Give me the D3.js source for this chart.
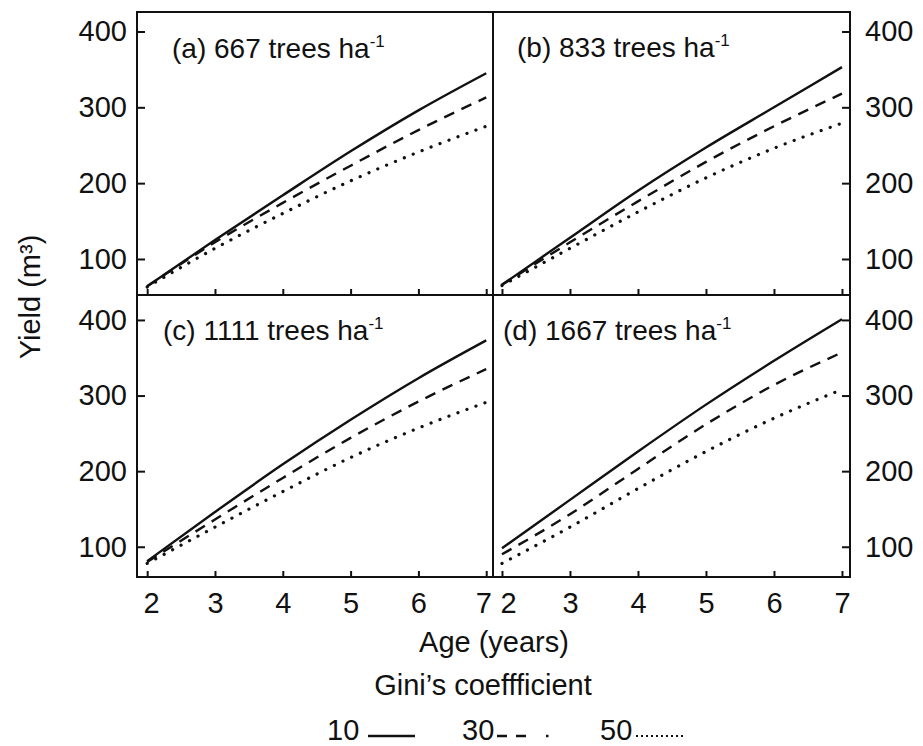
<!DOCTYPE html>
<html>
<head>
<meta charset="utf-8">
<script src="https://cdn.jsdelivr.net/npm/d3@7/dist/d3.min.js"></script>
<style>
  html, body { margin: 0; padding: 0; background: #fff; }
  svg { display: block; }
  text { font-family: "Liberation Sans", Arial, sans-serif; fill: #111; }
</style>
</head>
<body>
<svg id="chart" width="923" height="746"></svg>
<script>
// ---------------- data ----------------
const ages = [2, 3, 4, 5, 6, 7];
const xTicks = [2, 3, 4, 5, 6, 7];
const yTicks = [100, 200, 300, 400];
const panelLetters = ["(a)", "(b)", "(c)", "(d)"];
const densities = ["667", "833", "1111", "1667"];
const giniLevels = ["10", "30", "50"];

// yield (m3) by age, Gini's coefficient 10 / 30 / 50
const a_g10 = [64, 125, 184, 242, 296, 345];
const a_g30 = [64, 122, 174, 223, 270, 313];
const a_g50 = [63, 114, 160, 203, 241, 275];

const b_g10 = [66, 128, 190, 247, 300, 353];
const b_g30 = [66, 122, 176, 228, 275, 318];
const b_g50 = [65, 114, 162, 207, 246, 279];

const c_g10 = [81, 146, 209, 268, 323, 373];
const c_g30 = [80, 136, 191, 244, 292, 335];
const c_g50 = [78, 126, 173, 218, 257, 291];

const d_g10 = [98, 162, 226, 288, 346, 401];
const d_g30 = [90, 143, 203, 262, 314, 357];
const d_g50 = [78, 126, 177, 226, 270, 308];

const panelSeries = [
  [a_g10, a_g30, a_g50],
  [b_g10, b_g30, b_g50],
  [c_g10, c_g30, c_g50],
  [d_g10, d_g30, d_g50]
];

// ---------------- layout ----------------
const svg = d3.select("#chart");
const colX = [[137, 493], [493, 850]];
const xDomains = [[1.85, 7.1], [1.868, 7.118]];
const rowY = [[12, 295], [295, 577]];
const yDomains = [[52.5, 425.7], [60, 433]];
const titlePos = [[172, 58], [517, 57], [163, 340], [503, 340]];
const styles = [
  { dash: null, width: 2.4, cap: "butt" },
  { dash: "11 8", width: 2.4, cap: "butt" },
  { dash: "0.1 9.5", width: 3.2, cap: "round" }
];

const FS = 29;

panelSeries.forEach((series, i) => {
  const col = i % 2, row = Math.floor(i / 2);
  const x = d3.scaleLinear().domain(xDomains[col]).range(colX[col]);
  const y = d3.scaleLinear().domain(yDomains[row]).range([rowY[row][1], rowY[row][0]]);
  const g = svg.append("g");

  // frame
  g.append("rect")
    .attr("x", colX[col][0]).attr("y", rowY[row][0])
    .attr("width", colX[col][1] - colX[col][0])
    .attr("height", rowY[row][1] - rowY[row][0])
    .attr("fill", "none").attr("stroke", "#111").attr("stroke-width", 2);

  // y axis
  const yAxis = (col === 0 ? d3.axisLeft(y) : d3.axisRight(y))
    .tickValues(yTicks).tickSize(-8).tickPadding(col === 0 ? 10 : 15);
  const ya = g.append("g")
    .attr("transform", `translate(${col === 0 ? colX[col][0] : colX[col][1]},0)`)
    .call(yAxis);
  ya.select(".domain").remove();
  ya.selectAll("line").attr("stroke", "#111").attr("stroke-width", 2);
  ya.selectAll("text").attr("font-size", FS).style("font-family", "Liberation Sans, Arial, sans-serif").attr("fill", "#111");

  // x axis
  const xAxis = d3.axisBottom(x).tickValues(xTicks).tickSize(-6).tickPadding(15)
    .tickFormat(row === 0 ? () => "" : d3.format("d"));
  const xa = g.append("g")
    .attr("transform", `translate(0,${rowY[row][1]})`)
    .call(xAxis);
  xa.select(".domain").remove();
  xa.selectAll("line").attr("stroke", "#111").attr("stroke-width", 2);
  xa.selectAll("text").attr("font-size", FS).style("font-family", "Liberation Sans, Arial, sans-serif").attr("fill", "#111")
    .attr("dx", d => (col === 0 && d === 7) ? -3 : (col === 1 && d === 2) ? 6 : (col === 0 && d === 2) ? 4 : 0);

  // lines
  const line = d3.line().x((d, k) => x(ages[k])).y(d => y(d)).curve(d3.curveMonotoneX);
  series.forEach((vals, s) => {
    const p = g.append("path")
      .datum(vals)
      .attr("d", line)
      .attr("fill", "none")
      .attr("stroke", "#111")
      .attr("stroke-width", styles[s].width)
      .attr("stroke-linecap", styles[s].cap);
    if (styles[s].dash) p.attr("stroke-dasharray", styles[s].dash);
  });

  // title
  const t = g.append("text")
    .attr("x", titlePos[i][0]).attr("y", titlePos[i][1])
    .attr("font-size", 28);
  t.append("tspan").text(panelLetters[i] + " " + densities[i] + " trees ha");
  t.append("tspan").attr("font-size", 17).attr("dy", -11).text("-1");
});

// axis titles
svg.append("text")
  .attr("transform", "translate(40,297) rotate(-90)")
  .attr("text-anchor", "middle")
  .attr("font-size", FS)
  .text("Yield (m³)");

svg.append("text")
  .attr("x", 494).attr("y", 652)
  .attr("text-anchor", "middle")
  .attr("font-size", FS)
  .text("Age (years)");

svg.append("text")
  .attr("x", 483).attr("y", 695)
  .attr("text-anchor", "middle")
  .attr("font-size", FS)
  .text("Gini\u2019s coeffficient");

// legend
const legendItems = [
  { label: giniLevels[0], tx: 327, x1: 368, x2: 415, dash: null, width: 2.5, cap: "butt" },
  { label: giniLevels[1], tx: 462, x1: 497, x2: 552, dash: "10 9 10 20 2.5 20", width: 2.5, cap: "butt" },
  { label: giniLevels[2], tx: 600, x1: 636, x2: 684, dash: "2 3", width: 2.2, cap: "butt" }
];
legendItems.forEach(it => {
  svg.append("text").attr("x", it.tx).attr("y", 740).attr("font-size", FS).text(it.label);
  const p = svg.append("path")
    .attr("d", d3.line()([[it.x1, 736], [it.x2, 736]]))
    .attr("stroke", "#111").attr("stroke-width", it.width).attr("fill", "none")
    .attr("stroke-linecap", it.cap);
  if (it.dash) p.attr("stroke-dasharray", it.dash);
});
</script>
</body>
</html>
